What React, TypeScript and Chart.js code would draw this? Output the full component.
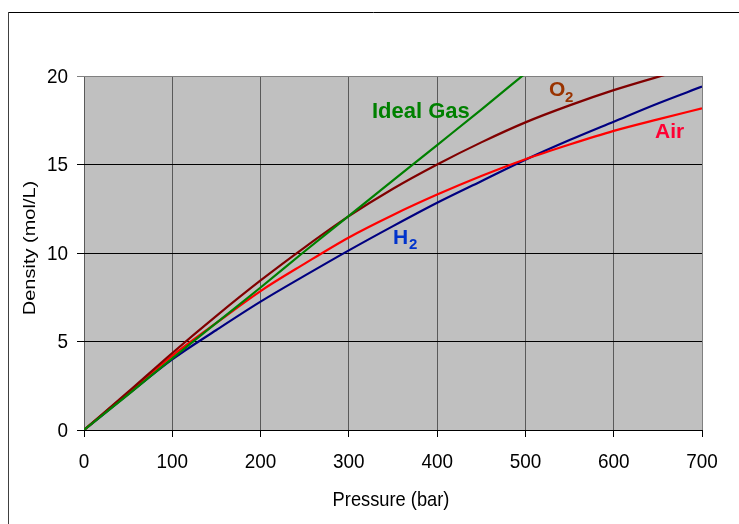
import React, { useEffect, useRef } from "react";
import { Chart, registerables } from "chart.js";

Chart.register(...registerables);

// ---- data ----
const PRESSURE = [0, 50, 100, 150, 200, 250, 300, 350, 400, 450, 500, 550, 600, 650, 700];
const IDEAL_PRESSURE = [0, 50, 100, 150, 200, 250, 300, 350, 400, 450, 500];
const IDEAL_GAS = [0, 2.0, 4.05, 6.05, 8.05, 10.1, 12.1, 14.1, 16.1, 18.1, 20.15];
const O2 = [0, 2.15, 4.35, 6.45, 8.45, 10.32, 12.08, 13.63, 15.0, 16.25, 17.38, 18.34, 19.2, 19.95, 20.65];
const AIR = [0, 2.1, 4.2, 6.05, 7.85, 9.4, 10.88, 12.15, 13.3, 14.35, 15.3, 16.13, 16.9, 17.55, 18.17];
const H2 = [0, 2.02, 3.99, 5.65, 7.25, 8.72, 10.15, 11.52, 12.84, 14.06, 15.27, 16.38, 17.42, 18.45, 19.4];

const X_TICKS = [0, 100, 200, 300, 400, 500, 600, 700];
const Y_TICKS = [0, 5, 10, 15, 20];
const X_TITLE = "Pressure (bar)";
const Y_TITLE = "Density (mol/L)";

const FONT = "'Liberation Sans', Arial, sans-serif";

function pts(xs: number[], ys: number[]) {
  return xs.map((x, i) => ({ x, y: ys[i] }));
}

function txt(
  ctx: CanvasRenderingContext2D,
  s: string,
  x: number,
  y: number,
  font: string,
  color: string,
  align: CanvasTextAlign,
  baseline: CanvasTextBaseline,
  sx = 1,
  rot = 0
) {
  ctx.save();
  ctx.translate(x, y);
  ctx.scale(sx, 1);
  if (rot) ctx.rotate(rot);
  ctx.font = font;
  ctx.fillStyle = color;
  ctx.textAlign = align;
  ctx.textBaseline = baseline;
  ctx.fillText(s, 0, 0);
  ctx.restore();
}

const decor = {
  id: "decor",
  beforeDraw(chart: any) {
    const { ctx, chartArea: a } = chart;
    ctx.save();
    ctx.fillStyle = "#ffffff";
    ctx.fillRect(0, 0, chart.width, chart.height);
    // outer frame
    ctx.strokeStyle = "#000000";
    ctx.lineWidth = 1;
    ctx.beginPath();
    ctx.moveTo(8, 12.5);
    ctx.lineTo(chart.width, 12.5);
    ctx.stroke();
    ctx.strokeStyle = "#404040";
    ctx.beginPath();
    ctx.moveTo(8.5, 12);
    ctx.lineTo(8.5, chart.height);
    ctx.stroke();
    // plot background
    ctx.fillStyle = "#c0c0c0";
    ctx.fillRect(a.left, a.top, a.right - a.left, a.bottom - a.top);
    ctx.restore();
  },
  afterDraw(chart: any) {
    const { ctx } = chart;
    const xs = chart.scales.x;
    const ys = chart.scales.y;
    const tickFont = `21px ${FONT}`;
    X_TICKS.forEach((v) => {
      txt(ctx, String(v), xs.getPixelForValue(v), 468, tickFont, "#000", "center", "alphabetic", 0.9);
    });
    Y_TICKS.forEach((v) => {
      txt(ctx, String(v), 68, ys.getPixelForValue(v) + 1, tickFont, "#000", "right", "middle", 0.9);
    });
    txt(ctx, X_TITLE, 391, 506, `21px ${FONT}`, "#000", "center", "alphabetic", 0.87);
    txt(ctx, Y_TITLE, 35, 248, `20px ${FONT}`, "#000", "center", "alphabetic", 0.78, -Math.PI / 2);

    // series labels
    txt(ctx, "Ideal Gas", 372, 118, `bold 22px ${FONT}`, "#008000", "left", "alphabetic");
    txt(ctx, "O", 549, 96, `bold 21px ${FONT}`, "#993300", "left", "alphabetic");
    txt(ctx, "2", 565, 101.5, `bold 15px ${FONT}`, "#993300", "left", "alphabetic");
    txt(ctx, "Air", 655, 137.5, `bold 21px ${FONT}`, "#ff0033", "left", "alphabetic");
    txt(ctx, "H", 393, 244, `bold 21px ${FONT}`, "#0033cc", "left", "alphabetic");
    txt(ctx, "2", 409, 249, `bold 15px ${FONT}`, "#0033cc", "left", "alphabetic");
  },
};

export default function App() {
  const ref = useRef<HTMLCanvasElement | null>(null);

  useEffect(() => {
    if (!ref.current) return;
    const line = (label: string, data: any[], color: string) => ({
      label,
      data,
      borderColor: color,
      backgroundColor: color,
      borderWidth: 2.2,
      pointRadius: 0,
      fill: false,
      cubicInterpolationMode: "monotone" as const,
    });
    const chart = new Chart(ref.current, {
      type: "line",
      data: {
        datasets: [
          line("Ideal Gas", pts(IDEAL_PRESSURE, IDEAL_GAS), "#008000"),
          line("O2", pts(PRESSURE, O2), "#800000"),
          line("Air", pts(PRESSURE, AIR), "#ff0000"),
          line("H2", pts(PRESSURE, H2), "#000080"),
        ],
      },
      options: {
        animation: false,
        responsive: false,
        devicePixelRatio: 1,
        layout: { padding: { left: 77, right: 37, top: 76, bottom: 87 } },
        plugins: { legend: { display: false }, tooltip: { enabled: false } },
        scales: {
          x: {
            type: "linear",
            min: 0,
            max: 700,
            ticks: { stepSize: 100, display: false },
            border: { display: false },
            grid: {
              drawTicks: true,
              tickLength: 7,
              lineWidth: 1,
              color: (c: any) => (c.tick && c.tick.value === 700 ? "#808080" : "#5a5a5a"),
              tickColor: "#000000",
            },
          },
          y: {
            type: "linear",
            min: 0,
            max: 20,
            ticks: { stepSize: 5, display: false },
            border: { display: false },
            grid: {
              drawTicks: true,
              tickLength: 7,
              lineWidth: 1,
              color: (c: any) => (c.tick && c.tick.value === 20 ? "#808080" : "#000000"),
              tickColor: (c: any) => (c.tick && c.tick.value === 20 ? "#808080" : "#000000"),
            },
          },
        },
      } as any,
      plugins: [decor],
    });
    return () => chart.destroy();
  }, []);

  return (
    <canvas
      ref={ref}
      width={739}
      height={524}
      style={{ position: "fixed", left: 0, top: 0, display: "block" }}
    />
  );
}
